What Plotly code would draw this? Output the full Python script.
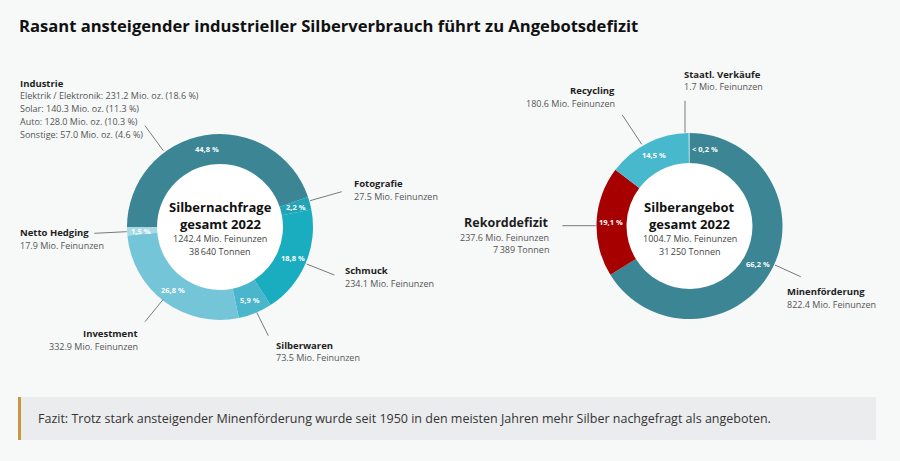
import math
import plotly.graph_objects as go

# -----------------------------
# DATA (Mio. Feinunzen, 2022)
# -----------------------------
demand_labels = ["Industrie", "Fotografie", "Schmuck", "Silberwaren", "Investment", "Netto Hedging"]
demand_values = [556.5, 27.5, 234.1, 73.5, 332.9, 17.9]
demand_pct = ["44,8 %", "2,2 %", "18,8 %", "5,9 %", "26,8 %", "1,5 %"]
demand_colors = ["#3b8595", "#22a4b6", "#19adbf", "#49b6cc", "#74c5d8", "#a6dae6"]

supply_labels = ["Minenförderung", "Rekorddefizit", "Recycling", "Staatl. Verkäufe"]
supply_values = [822.4, 237.6, 180.6, 1.7]
supply_pct = ["66,2 %", "19,1 %", "14,5 %", "< 0,2 %"]
supply_colors = ["#3b8595", "#a60000", "#48b9cc", "#a6dae6"]

industrie_details = [
    "Elektrik / Elektronik: 231.2 Mio. oz. (18.6 %)",
    "Solar: 140.3 Mio. oz. (11.3 %)",
    "Auto: 128.0 Mio. oz. (10.3 %)",
    "Sonstige: 57.0 Mio. oz. (4.6 %)",
]
demand_tonnes = "38\u2009640 Tonnen"
supply_tonnes = "31\u2009250 Tonnen"
deficit_tonnes = "7\u2009389 Tonnen"

TITLE = "Rasant ansteigender industrieller Silberverbrauch führt zu Angebotsdefizit"
FAZIT = ("Fazit: Trotz stark ansteigender Minenförderung wurde seit 1950 in den meisten "
         "Jahren mehr Silber nachgefragt als angeboten.")

# -----------------------------
# LAYOUT CONSTANTS (pixels)
# -----------------------------
W, H = 900, 461
FONT = "Open Sans"
BG = "#f7f8f8"
R_OUT, R_IN = 93, 63
LEFT_C = (220, 227)
RIGHT_C = (689.5, 226)
SMALL = 9
LINE = 12.8


def px(x, y):
    return x / W, 1 - y / H


def domain(c):
    cx, cy = c
    return dict(x=[(cx - R_OUT) / W, (cx + R_OUT) / W],
                y=[1 - (cy + R_OUT) / H, 1 - (cy - R_OUT) / H])


fig = go.Figure()

for c, vals, labs, cols, rot in [
    (LEFT_C, demand_values, demand_labels, demand_colors, 270),
    (RIGHT_C, supply_values, supply_labels, supply_colors, 0),
]:
    fig.add_trace(go.Pie(
        values=vals, labels=labs, domain=domain(c),
        hole=R_IN / R_OUT, sort=False, direction="clockwise", rotation=rot,
        marker=dict(colors=cols, line=dict(width=0)),
        textinfo="none", showlegend=False, hoverinfo="label+value",
    ))

shapes = []
annots = []

# white centre discs
for cx, cy in [LEFT_C, RIGHT_C]:
    x0, y1 = px(cx - R_IN + 0.5, cy - R_IN + 0.5)
    x1, y0 = px(cx + R_IN - 0.5, cy + R_IN - 0.5)
    shapes.append(dict(type="circle", xref="paper", yref="paper", x0=x0, x1=x1, y0=y0, y1=y1,
                       fillcolor="white", line=dict(width=0), layer="below"))


def text(x, y, t, size=SMALL, color="#555555", anchor="left", bold=False):
    xx, yy = px(x, y)
    annots.append(dict(x=xx, y=yy, xref="paper", yref="paper", text=("<b>%s</b>" % t) if bold else t,
                       showarrow=False, xanchor=anchor, yanchor="middle", align=anchor, borderpad=0,
                       font=dict(size=size, color=color, family=FONT)))


# percentage labels in the ring, placed at the slice middles
def ring_labels(c, vals, texts, rot, nudge=None):
    total = sum(vals)
    acc = 0
    r_mid = (R_OUT + R_IN) / 2 + 1
    for i, (v, t) in enumerate(zip(vals, texts)):
        ang = rot + 360 * (acc + v / 2) / total + (nudge[i] if nudge else 0)
        a = math.radians(ang)
        text(c[0] + r_mid * math.sin(a), c[1] - r_mid * math.cos(a), t,
             size=7.5, color="white", anchor="center", bold=True)
        acc += v


ring_labels(LEFT_C, demand_values, demand_pct, 270)
ring_labels(RIGHT_C, supply_values, supply_pct, 0, nudge=[0, 0, 0, 11.5])


def label(x, y, head, details, anchor="left", head_size=SMALL + 0.5, first_gap=12.7):
    text(x, y, head, size=head_size, color="#1e1e1e", anchor=anchor, bold=True)
    for i, d in enumerate(details):
        text(x, y + first_gap + LINE * i, d, anchor=anchor)


def feinunzen(v):
    return "%.1f Mio. Feinunzen" % v


# outside labels
label(19, 83, "Industrie", industrie_details)
label(353, 183.3, "Fotografie", [feinunzen(demand_values[1])])
label(19, 232.7, "Netto Hedging", [feinunzen(demand_values[5])])
label(344, 270.3, "Schmuck", [feinunzen(demand_values[2])])
label(139, 333.3, "Investment", [feinunzen(demand_values[4])], anchor="right")
label(275, 345, "Silberwaren", [feinunzen(demand_values[3])])

label(683, 74, "Staatl. Verkäufe", [feinunzen(supply_values[3])])
label(616, 90.7, "Recycling", [feinunzen(supply_values[2])], anchor="right")
label(550, 222.3, "Rekorddefizit", [feinunzen(supply_values[1]), deficit_tonnes],
      anchor="right", head_size=12.5, first_gap=14.7)
label(786, 291.3, "Minenförderung", [feinunzen(supply_values[0])])

# centre texts
supply_total = sum(supply_values) - supply_values[1]
for c, head, total, tonnes in [
    (LEFT_C, "Silbernachfrage", sum(demand_values), demand_tonnes),
    (RIGHT_C, "Silberangebot", supply_total, supply_tonnes),
]:
    text(c[0], 206.5, head, size=13, color="#111111", anchor="center", bold=True)
    text(c[0], 223.5, "gesamt 2022", size=13, color="#111111", anchor="center", bold=True)
    text(c[0], 238.8, feinunzen(total), color="#444444", anchor="center")
    text(c[0], 251.5, tonnes, color="#444444", anchor="center")

# leader lines
leaders = [
    ((145, 125.7), (163.3, 150.7)),
    ((341.7, 191.7), (310, 200.7)),
    ((94.3, 233.3), (126.7, 231.7)),
    ((306.7, 264), (334.3, 275)),
    ((145, 321.7), (163.3, 299.3)),
    ((256.7, 312.3), (268.3, 335.7)),
    ((685, 100.7), (685, 132.7)),
    ((622.3, 115), (641.7, 144.3)),
    ((562.3, 225.7), (595.7, 225.7)),
    ((775, 265), (800.7, 276.7)),
]
for (xa, ya), (xb, yb) in leaders:
    x0, y0 = px(xa, ya)
    x1, y1 = px(xb, yb)
    shapes.append(dict(type="line", xref="paper", yref="paper", x0=x0, y0=y0, x1=x1, y1=y1,
                       line=dict(color="#7a7a7a", width=1)))

# title
text(18, 25.5, TITLE, size=16.6, color="#111111", bold=True)

# Fazit box
bx0, by1 = px(18, 397)
bx1, by0 = px(876, 440)
shapes.append(dict(type="rect", xref="paper", yref="paper", x0=bx0, x1=bx1, y0=by0, y1=by1,
                   fillcolor="#ebecee", line=dict(width=0), layer="below"))
shapes.append(dict(type="rect", xref="paper", yref="paper", x0=bx0, x1=px(21, 0)[0], y0=by0, y1=by1,
                   fillcolor="#c9973f", line=dict(width=0), layer="below"))
text(37, 418.5, FAZIT, size=12.5, color="#333333")

fig.update_layout(
    width=W, height=H,
    margin=dict(l=0, r=0, t=0, b=0),
    paper_bgcolor=BG, plot_bgcolor=BG,
    shapes=shapes, annotations=annots,
    font=dict(family=FONT),
)

# drop the default body margin so the 900x461 figure fills the window exactly
fig.write_html("out.html", config={"displayModeBar": False},
               post_script="document.body.style.margin='0';document.body.style.overflow='hidden';")
